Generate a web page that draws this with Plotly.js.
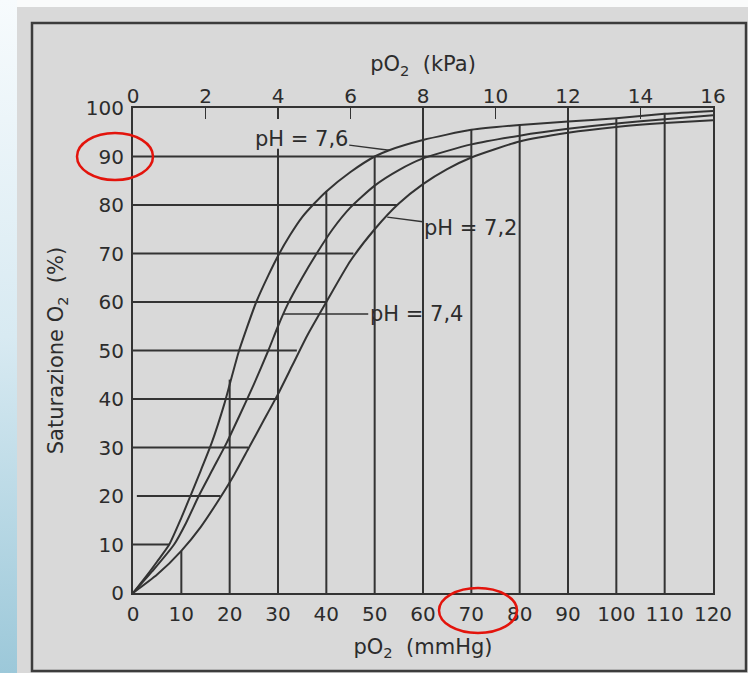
<!DOCTYPE html>
<html><head><meta charset="utf-8">
<script src="https://cdn.plot.ly/plotly-3.0.1.min.js"></script>
<style>
html,body{margin:0;padding:0;background:#fafbfb;}
#wrap{width:748px;height:673px;position:relative;overflow:hidden;
background:
 linear-gradient(#d9d9d9,#d9d9d9) 17px 7px/731px 666px no-repeat,
 linear-gradient(to bottom,#f7fbfd,#d8eaf2 50%,#9cc8d9) 0 0/17px 673px no-repeat,
 #fafbfb;}
#chart{width:748px;height:673px;}
</style></head><body><div id="wrap"><div id="chart"></div></div>
<script>
// ---- data ----
// bottom axis: pO2 in mmHg
const mmTicks = [0,10,20,30,40,50,60,70,80,90,100,110,120];
// top axis: pO2 in kPa (positions in mmHg, 1 kPa = 7.5 mmHg)
const kpaLabels = ['0','2','4','6','8','10','12','14','16'];
const kpaPos = [0,15,30,45,60,75,90,105,120];
// y axis: saturation %
const satTicks = [0,10,20,30,40,50,60,70,80,90,100];

// dissociation curves
const po2_76 = [0,3,5,7.5,10,12,14,16.3,18.9,20,21.8,23.5,25.5,28,30,32.5,35,37.5,40,45,50,53,60,70,80,90,100,110,120];
const sat_76 = [0,3.8,6.5,10,15.5,20.3,25.2,31,39,43,49.5,54.5,60,65.5,69.5,73.8,77.5,80.3,82.8,86.8,90,91.3,93.4,95.5,96.5,97.2,97.9,98.8,99.4];

const po2_74 = [0,4,8.5,11,13.6,16.5,19.4,22,25,28,30,32,35,38,41.3,45,50,55,60,70,80,90,100,110,120];
const sat_74 = [0,4.5,10,14.5,20,25.5,31,36.5,43,50,55,59.5,65,70,75,79.5,84,87.2,89.6,92.5,94.3,95.7,96.8,97.7,98.5];

const po2_72 = [0,5,10,14,18,21,24,27,30,33,36,40,45,50,55,60,65,70,80,90,100,110,120];
const sat_72 = [0,3.8,8.7,13.6,19.6,24.5,30,35.5,41,47,53,60,68.5,75,80.3,84.3,87.4,89.8,93.1,94.9,96.1,96.9,97.5];

// reading lines: horizontals from the y axis, verticals from the x axis
const hLevels = [10,20,30,40,50,60,70,80,90];
const hStart  = [0,0.8,0,0,0,0,0,0,0];
const hEnd    = [7.5,18.1,23.8,30,33.9,40,45.6,54.6,70];
const vPos    = [10,20,30,40,50,60,70,80,90,100,110];
const vEnd    = [8.7,44,91.6,82.9,90,100,95.6,96.6,100,97.8,98.9];

// curve labels
const phLabels = ['pH = 7,6','pH = 7,2','pH = 7,4'];
const phTipX   = [53,52.6,31.1];
const phTipY   = [91.3,77.5,57.5];
const phTextX  = [34.8,69.9,58.6];
const phTextY  = [93.6,75.3,57.5];

// ---- build traces ----
const ink = '#333333';
const hx=[],hy=[];
hLevels.forEach((v,i)=>{hx.push(hStart[i],hEnd[i],null);hy.push(v,v,null);});
const vx=[],vy=[];
vPos.forEach((v,i)=>{vx.push(v,v,null);vy.push(0,vEnd[i],null);});

const lineStyle = {color:ink,width:2};
const curveStyle = {color:ink,width:2,shape:'spline',smoothing:0.6};
const traces = [
 {x:hx,y:hy,mode:'lines',line:lineStyle,hoverinfo:'skip'},
 {x:vx,y:vy,mode:'lines',line:lineStyle,hoverinfo:'skip'},
 {x:po2_76,y:sat_76,mode:'lines',name:'pH 7,6',line:curveStyle},
 {x:po2_74,y:sat_74,mode:'lines',name:'pH 7,4',line:curveStyle},
 {x:po2_72,y:sat_72,mode:'lines',name:'pH 7,2',line:curveStyle},
 {x:kpaPos,y:kpaPos.map(()=>0),xaxis:'x2',mode:'markers',marker:{opacity:0},hoverinfo:'skip'}
];

// paper coords helpers (plot area: px 133..713, py 108..593)
const px = p => (p-133)/580;
const py = p => (593-p)/485;

const annotations = phLabels.map((t,i)=>({
  x:phTipX[i], y:phTipY[i], xref:'x', yref:'y',
  ax:phTextX[i], ay:phTextY[i], axref:'x', ayref:'y',
  text:t, showarrow:true, arrowhead:0, arrowwidth:1.5, arrowcolor:ink, standoff:0,
  font:{family:'DejaVu Sans',size:21,color:'#2c2c2c'}
}));

const shapes = [
 {type:'rect',xref:'paper',yref:'paper',x0:px(32),x1:px(746),y0:py(671),y1:py(23),line:{color:'#3c3c3c',width:2.5},layer:'below'},
 {type:'circle',xref:'paper',yref:'paper',x0:px(77),x1:px(153),y0:py(180),y1:py(133),line:{color:'#e3140c',width:2.5}},
 {type:'circle',xref:'paper',yref:'paper',x0:px(439),x1:px(517),y0:py(633),y1:py(588),line:{color:'#e3140c',width:2.5}}
];

const layout = {
  width:748,height:673,
  margin:{l:133,r:35,t:108,b:80},
  paper_bgcolor:'rgba(0,0,0,0)',
  plot_bgcolor:'#d9d9d9',
  showlegend:false,
  font:{family:'DejaVu Sans',size:20,color:'#2c2c2c'},
  xaxis:{range:[0,120],tickvals:mmTicks,ticktext:mmTicks.map(String),ticks:'',showgrid:false,zeroline:false,
    showline:true,mirror:true,linecolor:ink,linewidth:2,ticklabelstandoff:2,
    title:{text:'pO<sub>2</sub>  (mmHg)',standoff:14,font:{size:21}}},
  xaxis2:{overlaying:'x',side:'top',range:[0,120],tickvals:kpaPos,ticktext:kpaLabels,ticks:'inside',ticklen:11,
    tickwidth:1.5,tickcolor:ink,showgrid:false,zeroline:false,showline:false,
    title:{text:'pO<sub>2</sub>  (kPa)',standoff:6,font:{size:21}}},
  yaxis:{range:[0,100],tickvals:satTicks,ticktext:satTicks.map(String),ticks:'',showgrid:false,zeroline:false,
    showline:true,mirror:true,linecolor:ink,linewidth:2,ticklabelstandoff:3,
    title:{text:'Saturazione O<sub>2</sub>  (%)',standoff:16,font:{size:21}}},
  annotations:annotations,
  shapes:shapes
};

Plotly.newPlot('chart',traces,layout,{displayModeBar:false,staticPlot:true});
</script></body></html>
